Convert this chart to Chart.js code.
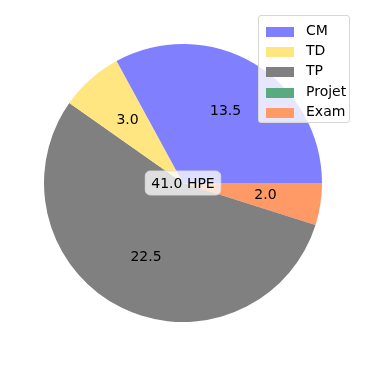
<!DOCTYPE html>
<html>
<head>
<meta charset="utf-8">
<script src="https://cdn.jsdelivr.net/npm/chart.js@4"></script>
<style>
  html, body { margin: 0; padding: 0; background: #fff; }
  #wrap { position: relative; width: 366px; height: 366px; }
  #legend {
    position: absolute; left: 258px; top: 15px; width: 92px; height: 108px;
    box-sizing: border-box; border: 1px solid #d6d6d6; border-radius: 3px;
    background: rgba(255,255,255,0.8);
    font-family: "DejaVu Sans", sans-serif; font-size: 14px; color: #000;
  }
  .item { position: absolute; left: 7px; height: 20px; }
  .patch { position: absolute; left: 0; top: 6px; width: 28px; height: 10px; }
  .lbl { position: absolute; left: 40px; top: 1px; white-space: nowrap; }
</style>
</head>
<body>
<div id="wrap">
  <canvas id="myChart" width="366" height="366"></canvas>
  <div id="legend"></div>
</div>
<script>
const categories = ['CM', 'TD', 'TP', 'Projet', 'Exam'];
const hours = [13.5, 3.0, 22.5, 0, 2.0];
const colors = ['#8080ff', '#ffe680', '#808080', '#5aaa80', '#ff9966'];
const centerText = '41.0 HPE';

// matplotlib draws counter-clockwise from 3 o'clock, Chart.js clockwise -> reverse
const revLabels = categories.slice().reverse();
const revData = hours.slice().reverse();
const revColors = colors.slice().reverse();

const valueLabels = {
    id: 'valueLabels',
    afterDatasetsDraw(chart) {
        const ctx = chart.ctx;
        const meta = chart.getDatasetMeta(0);
        ctx.save();
        ctx.font = '14px "DejaVu Sans"';
        ctx.fillStyle = '#000';
        ctx.textAlign = 'center';
        ctx.textBaseline = 'middle';
        meta.data.forEach((arc, i) => {
            const v = revData[i];
            if (!v) return;
            const p = arc.getProps(['x', 'y', 'startAngle', 'endAngle', 'outerRadius'], true);
            const mid = (p.startAngle + p.endAngle) / 2;
            const r = p.outerRadius * 0.6;
            ctx.fillText(v.toFixed(1), p.x + Math.cos(mid) * r, p.y + Math.sin(mid) * r);
        });
        // centre box
        const a = meta.data[0];
        const cx = a.x, cy = a.y;
        const w = ctx.measureText(centerText).width + 12;
        const h = 24;
        ctx.fillStyle = 'rgba(255,255,255,0.75)';
        ctx.strokeStyle = 'rgba(220,220,220,0.9)';
        ctx.lineWidth = 1;
        ctx.beginPath();
        ctx.roundRect(cx - w / 2, cy - h / 2, w, h, 5);
        ctx.fill();
        ctx.stroke();
        ctx.fillStyle = '#000';
        ctx.fillText(centerText, cx, cy + 1);
        ctx.restore();
    }
};

new Chart(document.getElementById('myChart'), {
    type: 'pie',
    data: {
        labels: revLabels,
        datasets: [{
            data: revData,
            backgroundColor: revColors,
            borderWidth: 0
        }]
    },
    options: {
        responsive: false,
        animation: false,
        rotation: 90,
        layout: { padding: 44 },
        plugins: {
            legend: { display: false },
            tooltip: { enabled: false }
        }
    },
    plugins: [valueLabels]
});

const legend = document.getElementById('legend');
categories.forEach((c, i) => {
    const item = document.createElement('div');
    item.className = 'item';
    item.style.top = (5 + i * 20.2) + 'px';
    item.innerHTML = '<div class="patch" style="background:' + colors[i] + '"></div><span class="lbl">' + c + '</span>';
    legend.appendChild(item);
});
</script>
</body>
</html>
